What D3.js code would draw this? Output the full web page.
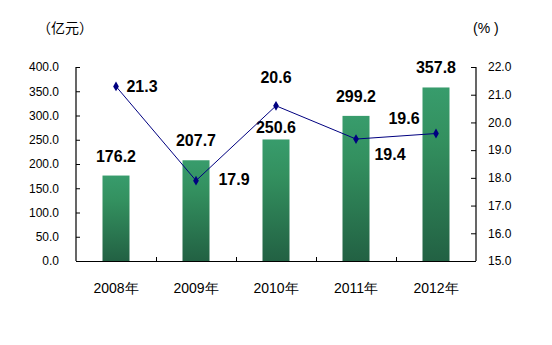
<!DOCTYPE html>
<html><head><meta charset="utf-8">
<script src="https://cdn.jsdelivr.net/npm/d3@7/dist/d3.min.js"></script>
<style>body{margin:0;background:#fff}svg{display:block}</style>
</head><body>
<svg id="c" width="552" height="345"></svg>
<script>
const categories = ["2008年","2009年","2010年","2011年","2012年"];
const amounts = [176.2, 207.7, 250.6, 299.2, 357.8];
const rates = [21.3, 17.9, 20.6, 19.4, 19.6];
const leftTicks = [0,50,100,150,200,250,300,350,400];
const rightTicks = [15,16,17,18,19,20,21,22];

const svg = d3.select("#c");
const L = 76, R = 476, T = 67, B = 261;
const x = d3.scaleBand().domain(categories).range([L, R]);
const yL = d3.scaleLinear().domain([0, 400]).range([B, T]);
const yR = d3.scaleLinear().domain([15, 22]).range([B, T]);

const defs = svg.append("defs");
const g = defs.append("linearGradient").attr("id","bg").attr("x1",0).attr("y1",0).attr("x2",0).attr("y2",1);
g.append("stop").attr("offset","0%").attr("stop-color","#389c6c");
g.append("stop").attr("offset","30%").attr("stop-color","#33905f");
g.append("stop").attr("offset","100%").attr("stop-color","#226143");

const bw = 27;
svg.append("g").selectAll("rect").data(amounts).join("rect")
  .attr("x",(d,i)=>x(categories[i])+x.bandwidth()/2-bw/2)
  .attr("y",d=>yL(d))
  .attr("width",bw)
  .attr("height",d=>B-yL(d))
  .attr("fill","url(#bg)");

const tickFont = "'Liberation Sans', Arial, sans-serif";
const ax = svg.append("g").attr("transform",`translate(${L},0)`)
  .call(d3.axisLeft(yL).tickValues(leftTicks).tickSize(-4).tickPadding(17).tickFormat(d3.format(".1f")));
const ar = svg.append("g").attr("transform",`translate(${R},0)`)
  .call(d3.axisRight(yR).tickValues(rightTicks).tickSize(-5).tickPadding(12).tickFormat(d3.format(".1f")));
[ax, ar].forEach(a=>{
  a.select(".domain").attr("stroke","#000").attr("stroke-width",1.2).attr("d",`M0,${T}V${B}`);
  a.selectAll(".tick line").attr("stroke","#000");
  a.selectAll("text").attr("font-family",tickFont).attr("font-size",12).attr("fill","#000");
});

const bottom = svg.append("g");
bottom.append("line").attr("x1",L).attr("x2",R).attr("y1",B+0.5).attr("y2",B+0.5).attr("stroke","#000").attr("stroke-width",1.2);
bottom.selectAll("line.t").data(categories.slice(1)).join("line").attr("class","t")
  .attr("x1",d=>Math.round(x(d))+0.5).attr("x2",d=>Math.round(x(d))+0.5)
  .attr("y1",B).attr("y2",B-4).attr("stroke","#000");
bottom.selectAll("text").data(categories).join("text")
  .attr("x",d=>x(d)+x.bandwidth()/2).attr("y",293)
  .attr("text-anchor","middle").attr("font-family",tickFont).attr("font-size",14).text(d=>d);

svg.append("text").attr("x",44).attr("y",33).attr("dx",-7).attr("font-family","'Noto Sans CJK SC', sans-serif").attr("font-size",14).text("（亿元）");
svg.append("text").attr("x",473).attr("y",33).attr("font-family",tickFont).attr("font-size",14).text("(% )");

const barLabelDy = [-14, -14, -6, -14, -14];
svg.append("g").selectAll("text").data(amounts).join("text")
  .attr("x",(d,i)=>x(categories[i])+x.bandwidth()/2)
  .attr("y",(d,i)=>yL(d)+barLabelDy[i])
  .attr("text-anchor","middle").attr("font-family",tickFont).attr("font-weight","bold").attr("font-size",16)
  .text(d=>d.toFixed(1));

const cx = i => x(categories[i])+x.bandwidth()/2;
const line = d3.line().x((d,i)=>cx(i)).y(d=>yR(d));
svg.append("path").datum(rates).attr("d",line).attr("fill","none").attr("stroke","#000080").attr("stroke-width",1);
svg.append("g").selectAll("path").data(rates).join("path")
  .attr("d",d3.symbol(d3.symbolDiamond,28))
  .attr("transform",(d,i)=>`translate(${cx(i)},${yR(d)})`)
  .attr("fill","#000080");
const rateOff = [[26,6],[38,4],[0,-23],[34,21],[-32,-10]];
svg.append("g").selectAll("text").data(rates).join("text")
  .attr("x",(d,i)=>cx(i)+rateOff[i][0])
  .attr("y",(d,i)=>yR(d)+rateOff[i][1])
  .attr("text-anchor","middle").attr("font-family",tickFont).attr("font-weight","bold").attr("font-size",16)
  .text(d=>d.toFixed(1));
</script>
</body></html>
